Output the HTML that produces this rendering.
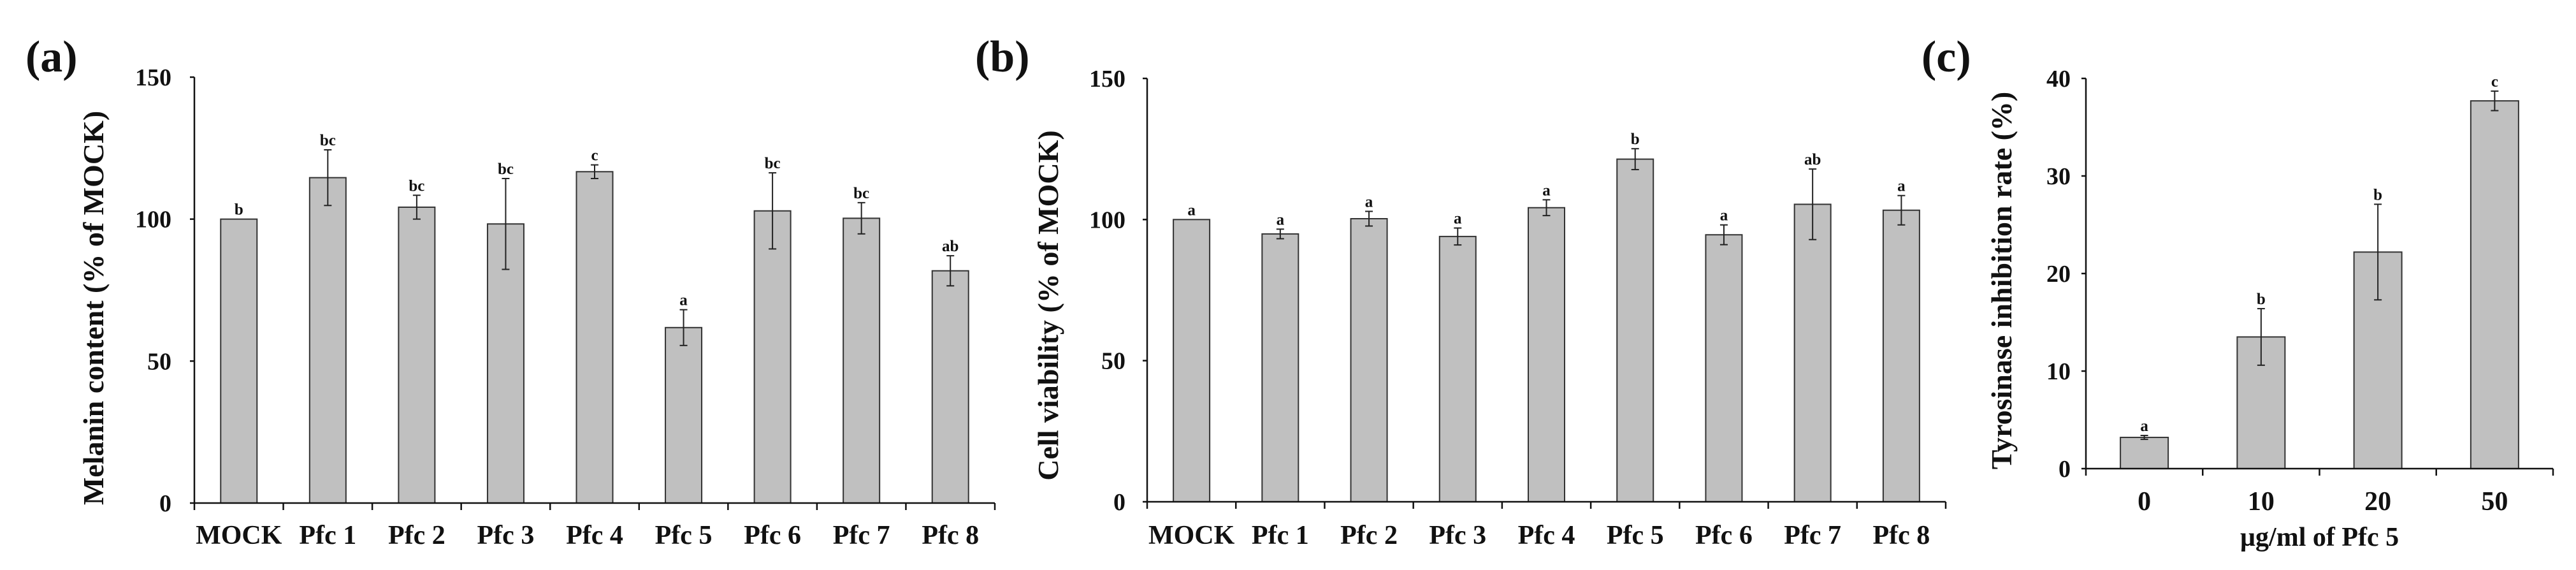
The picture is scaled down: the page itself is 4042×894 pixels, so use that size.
<!DOCTYPE html>
<html><head><meta charset="utf-8">
<style>
html,body{margin:0;padding:0;background:#fff;}
svg{display:block;}
text{font-family:"Liberation Serif",serif;font-weight:bold;fill:#111;}
</style></head>
<body>
<svg id="chart" width="4042" height="894" viewBox="0 0 4042 894" xmlns="http://www.w3.org/2000/svg"></svg>
<script>
// Panel (a) data
const catsA = ["MOCK","Pfc 1","Pfc 2","Pfc 3","Pfc 4","Pfc 5","Pfc 6","Pfc 7","Pfc 8"];
const valsA = [100,114.6,104.2,98.3,116.7,61.8,102.9,100.3,81.8];
const errsA = [0,9.8,4.2,16,2.4,6.3,13.4,5.5,5.3];
const lettersA = ["b","bc","bc","bc","c","a","bc","bc","ab"];
const ticksA = [0,50,100,150];
// Panel (b) data
const catsB = ["MOCK","Pfc 1","Pfc 2","Pfc 3","Pfc 4","Pfc 5","Pfc 6","Pfc 7","Pfc 8"];
const valsB = [100,94.9,100.3,94,104.2,121.4,94.6,105.4,103.3];
const errsB = [0,1.7,2.6,3,2.8,3.7,3.5,12.5,5.2];
const lettersB = ["a","a","a","a","a","b","a","ab","a"];
const ticksB = [0,50,100,150];
// Panel (c) data
const catsC = ["0","10","20","50"];
const valsC = [3.2,13.5,22.2,37.7];
const errsC = [0.2,2.9,4.9,1];
const lettersC = ["a","b","b","c"];
const ticksC = [0,10,20,30,40];

const NS = "http://www.w3.org/2000/svg";
const svg = document.getElementById('chart');
function mk(tag, attrs, parent){
  const e = document.createElementNS(NS, tag);
  for (const k in attrs) e.setAttribute(k, attrs[k]);
  (parent||svg).appendChild(e);
  return e;
}
function panel(cfg){
  const g = mk('g', {});
  
  
  const {x0,x1,y0,y1,ymax,cats,vals,errs,letters,ticks,barW} = cfg;
  const yS = v => y0 - (v/ymax)*(y0-y1);
  const step = (x1-x0)/cats.length;
  const xC = i => x0 + step*(i+0.5);
  cats.forEach((c,i)=>{
    const r = mk('rect',{x:xC(i)-barW/2,y:yS(vals[i]),width:barW,height:y0-yS(vals[i]),fill:'#c0c0c0',stroke:'#333','stroke-width':2},g);
    
    
    if (errs[i] > 0){
      const t = yS(vals[i]+errs[i]), b = yS(vals[i]-errs[i]);
      const eg = mk('g',{stroke:'#222','stroke-width':2},g);
      
      
      mk('line',{x1:xC(i),x2:xC(i),y1:t,y2:b},eg);
      mk('line',{x1:xC(i)-6,x2:xC(i)+6,y1:t,y2:t},eg);
      mk('line',{x1:xC(i)-6,x2:xC(i)+6,y1:b,y2:b},eg);
    }
    const lt = mk('text',{x:xC(i),y:yS(vals[i]+errs[i])-7,'text-anchor':'middle','font-size':25},g);
    lt.textContent = letters[i];
    
    
    const xl = mk('text',{x:xC(i),y:cfg.xlabY,'text-anchor':'middle','font-size':cfg.xfs},g);
    xl.textContent = c;
    
    
  });
  const ax = mk('g',{stroke:'#111','stroke-width':2.5},g);
  
  
  mk('line',{x1:x0,x2:x0,y1:y1,y2:y0+1},ax);
  mk('line',{x1:x0,x2:x1,y1:y0,y2:y0},ax);
  for (let i=0;i<=cats.length;i++) mk('line',{x1:x0+step*i,x2:x0+step*i,y1:y0,y2:y0+11},ax);
  ticks.forEach(t=>{
    mk('line',{x1:x0-7,x2:x0,y1:yS(t),y2:yS(t)},ax);
    const tl = mk('text',{x:x0-cfg.tgap,y:yS(t)+13,'text-anchor':'end','font-size':38},g);
    tl.textContent = t;
    
    
  });
  const yt = mk('text',{x:0,y:0,'text-anchor':'middle','font-size':cfg.yfs,transform:`translate(${cfg.ytx},${cfg.yty}) rotate(-90)`},g);
  yt.textContent = cfg.ytitle;
  
  
  const pl = mk('text',{x:cfg.plx,y:112,'font-size':70},g);
  pl.textContent = cfg.plabel;
  
  
  if (cfg.xtitle){
    const xt = mk('text',{x:(x0+x1)/2,y:856,'text-anchor':'middle','font-size':42},g);
    xt.textContent = cfg.xtitle;
    
    
  }
}
panel({name:'panel-a-melanin',x0:305,x1:1561,y0:789,y1:121,ymax:150,cats:catsA,vals:valsA,errs:errsA,letters:lettersA,ticks:ticksA,barW:57,xlabY:853,xfs:42,yfs:46,tgap:36,ytitle:'Melanin content (% of MOCK)',ytx:162,yty:483,plabel:'(a)',plx:40});
panel({name:'panel-b-viability',x0:1800,x1:3053,y0:787,y1:123,ymax:150,cats:catsB,vals:valsB,errs:errsB,letters:lettersB,ticks:ticksB,barW:57,xlabY:853,xfs:42,yfs:46,tgap:34,ytitle:'Cell viability  (% of MOCK)',ytx:1660,yty:479,plabel:'(b)',plx:1530});
panel({name:'panel-c-tyrosinase',x0:3273,x1:4006,y0:735,y1:123,ymax:40,cats:catsC,vals:valsC,errs:errsC,letters:lettersC,ticks:ticksC,barW:75,xlabY:800,xfs:42,yfs:46,tgap:24,ytitle:'Tyrosinase inhibition  rate (%)',ytx:3156,yty:440,plabel:'(c)',plx:3015,xtitle:'\u00b5g/ml of Pfc 5'});
</script>
</body></html>
